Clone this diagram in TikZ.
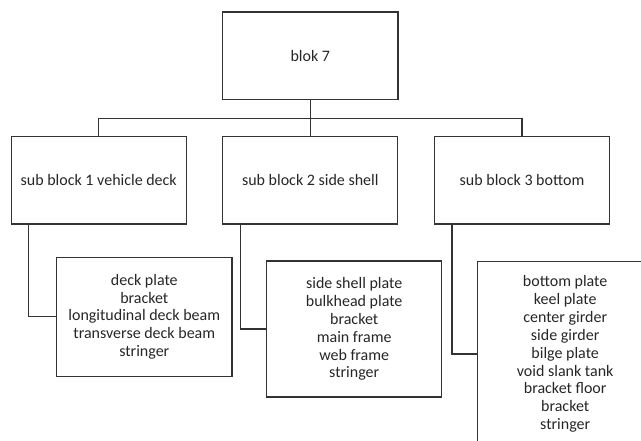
\documentclass[tikz,border=0pt]{standalone}
\usepackage{fontspec}
\setmainfont{Carlito}
\begin{document}
\begin{tikzpicture}[x=1pt,y=-1pt,
  box/.style={draw=black!80,line width=1.1pt,text=black!85,align=center,
    inner sep=0pt,font=\fontsize{16}{17.9}\selectfont},
  link/.style={draw=black!80,line width=1.1pt}]
\useasboundingbox (0,0) rectangle (641,441);
\clip (0,0) rectangle (641,441);
% top block
\node[box,minimum width=175.3pt,minimum height=87.3pt] (b) at (310.3,55.7) {blok 7};
% sub blocks
\node[box,minimum width=175pt,minimum height=87.3pt] (s1) at (98.7,180.4) {sub block 1 vehicle deck};
\node[box,minimum width=175pt,minimum height=87.3pt] (s2) at (310.3,180.4) {sub block 2 side shell};
\node[box,minimum width=175pt,minimum height=87.3pt] (s3) at (522,180.4) {sub block 3 bottom};
% part lists
\node[box,minimum width=175.3pt,minimum height=119pt] (d1) at (144.3,316.8)
  {deck plate\\bracket\\longitudinal deck beam\\transverse deck beam\\stringer};
\node[box,minimum width=175pt,minimum height=136pt] (d2) at (354.2,329)
  {side shell plate\\bulkhead plate\\bracket\\main frame\\web frame\\stringer};
\node[box,minimum width=175pt,minimum height=184.6pt] (d3) at (565.2,354)
  {bottom plate\\keel plate\\center girder\\side girder\\bilge plate\\void slank tank\\bracket floor\\bracket\\stringer};
% tree connectors
\coordinate (bus) at ([yshift=-18.7pt]b.south);
\draw[link] (b.south) -- (s2.north);
\draw[link] (bus) -| (s1.north);
\draw[link] (bus) -| (s3.north);
\draw[link] ([xshift=18pt]s1.south west) |- (d1.west);
\draw[link] ([xshift=18pt]s2.south west) |- (d2.west);
\draw[link] ([xshift=18pt]s3.south west) |- (d3.west);
\end{tikzpicture}
\end{document}
